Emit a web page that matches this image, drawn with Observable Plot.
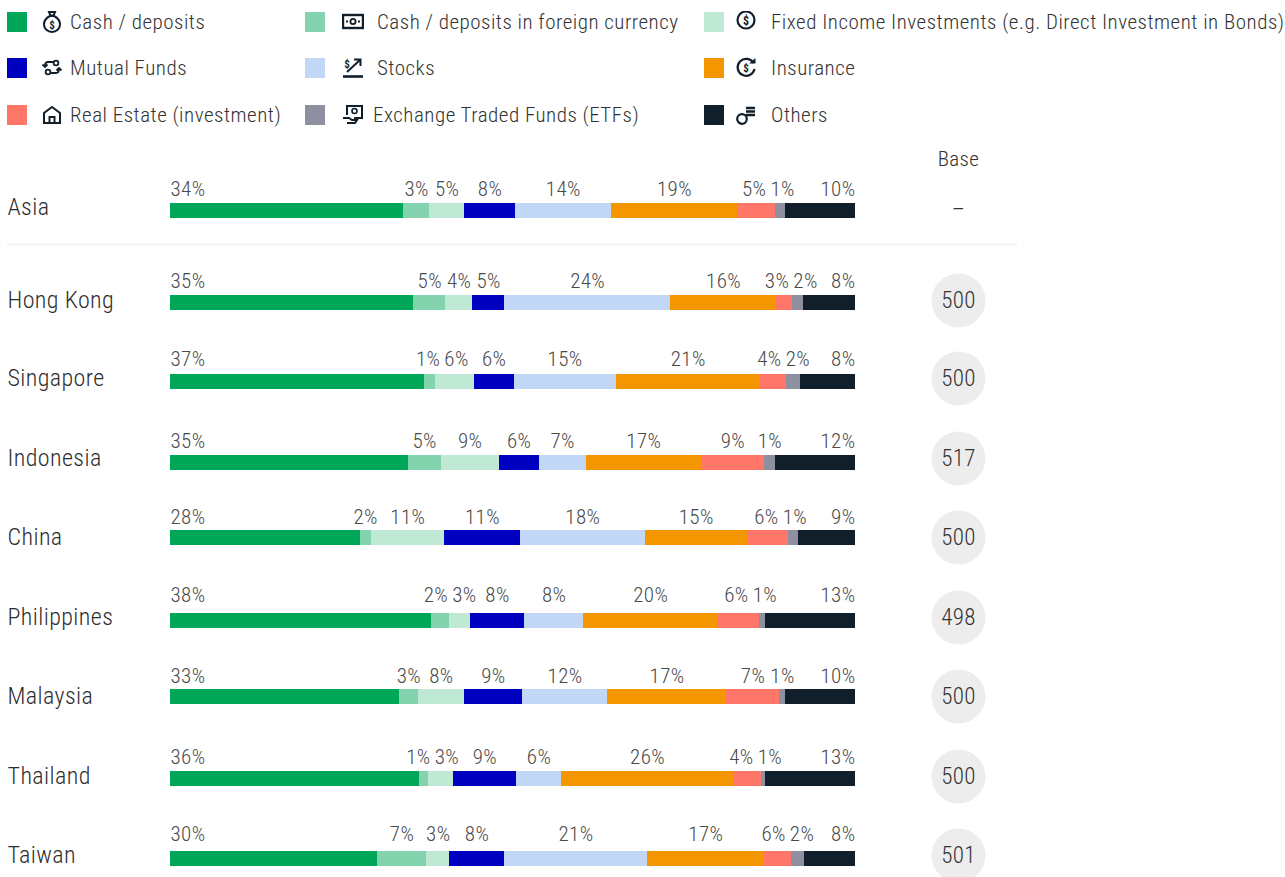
<!DOCTYPE html>
<html><head><meta charset="utf-8">
<script src="https://cdn.jsdelivr.net/npm/d3@7"></script>
<script src="https://cdn.jsdelivr.net/npm/@observablehq/plot@0.6"></script>
<style>
html,body{margin:0;padding:0;background:#fff;overflow:hidden}
body{width:1285px;height:877px;font-family:"Roboto Condensed",Roboto,sans-serif;font-weight:300}
#legend{position:relative;height:135px;width:1285px}
#legend .sw{position:absolute;width:20px;height:20px}
#legend .ic{position:absolute;width:22px;height:22px}
#legend .tx{position:absolute;font-size:21px;line-height:24px;color:#333;letter-spacing:.5px;white-space:nowrap}
#chart svg{display:block}
</style></head><body>
<div id="legend"></div><div id="chart"></div>
<script>
const regions = ["Asia","Hong Kong","Singapore","Indonesia","China","Philippines","Malaysia","Thailand","Taiwan"];
const baseLabels = ["–","500","500","517","500","498","500","500","501"];
const seriesNames = ["Cash / deposits","Cash / deposits in foreign currency","Fixed Income Investments (e.g. Direct Investment in Bonds)","Mutual Funds","Stocks","Insurance","Real Estate (investment)","Exchange Traded Funds (ETFs)","Others"];
const seriesColors = ["#00a758","#83d3ae","#bfe9d5","#0000c1","#c2d7f5","#f49600","#ff7769","#8e90a2","#111f2b"];

const cash       = [34.0,35.5,37.1,34.7,27.7,38.1,33.4,36.4,30.2];
const foreign    = [3.8,4.7,1.5,4.8,1.6,2.6,2.8,1.3,7.2];
const fixedIncome= [5.1,3.9,5.7,8.5,10.7,3.1,6.7,3.6,3.4];
const mutual     = [7.4,4.7,5.8,5.8,11.1,7.9,8.5,9.2,7.9];
const stocks     = [14.0,24.2,14.9,6.9,18.2,8.6,12.4,6.6,21.0];
const insurance  = [18.4,15.5,21.0,16.8,14.9,19.6,17.4,25.1,16.9];
const realEstate = [5.5,2.3,3.9,9.2,6.0,6.1,7.7,4.1,4.1];
const etfs       = [1.5,1.6,2.0,1.6,1.5,0.9,0.9,0.6,1.8];
const others     = [10.2,7.6,8.0,11.7,8.3,13.1,10.2,13.1,7.5];
const seriesValues = [cash,foreign,fixedIncome,mutual,stocks,insurance,realEstate,etfs,others];

const cashLabels       = [34,35,37,35,28,38,33,36,30];
const foreignLabels    = [3,5,1,5,2,2,3,1,7];
const fixedLabels      = [5,4,6,9,11,3,8,3,3];
const mutualLabels     = [8,5,6,6,11,8,9,9,8];
const stocksLabels     = [14,24,15,7,18,8,12,6,21];
const insuranceLabels  = [19,16,21,17,15,20,17,26,17];
const realEstateLabels = [5,3,4,9,6,6,7,4,6];
const etfLabels        = [1,2,2,1,1,1,1,1,2];
const othersLabels     = [10,8,8,12,9,13,10,13,8];
const seriesLabels = [cashLabels,foreignLabels,fixedLabels,mutualLabels,stocksLabels,insuranceLabels,realEstateLabels,etfLabels,othersLabels];

/* layout */
const FONT = '"Roboto Condensed",Roboto,sans-serif';
const HEAD = 135, BAR_L = 170, BAR_R = 855, W = 1285, H = 742;
const rowY = [207,300,378,458,537,617,696,776,855];
const barNudge = [3,2,3,4,0,3,0,2,3];
const labelNudge = [-18,-19,-19,-17,-20,-22,-20,-19,-21];
const toShare = d3.scaleLinear([BAR_L,BAR_R],[0,1]);

/* legend */
const ink = "#111f2b";
const icons = [
 `<path d="M8 1h6l-1.500 3.500h-3zM9 5h4c4 2 6 5 6 8.500a8 7.500 0 0 1-16 0c0-3.500 2-6.500 6-8.500z" fill="none" stroke="${ink}" stroke-width="2"/><text x="11" y="18" font-size="11" font-weight="bold" text-anchor="middle" fill="${ink}">$</text>`,
 `<rect x="1" y="4" width="20" height="13" fill="none" stroke="${ink}" stroke-width="2.400"/><circle cx="11" cy="10.500" r="2.600" fill="none" stroke="${ink}" stroke-width="1.800"/><path d="M5 9.500v2M17 9.500v2" stroke="${ink}" stroke-width="2"/>`,
 `<circle cx="11" cy="9" r="8.500" fill="none" stroke="${ink}" stroke-width="2.200"/><text x="11" y="13.500" font-size="12" font-weight="bold" text-anchor="middle" fill="${ink}">$</text>`,
 `<circle cx="15" cy="6" r="2.400" fill="none" stroke="${ink}" stroke-width="1.800"/><circle cx="7" cy="15" r="2.400" fill="none" stroke="${ink}" stroke-width="1.800"/><path d="M12 5H7Q4 5 4 9M1.500 7.500L4 10l2.500-2.500M10 16h5q3 0 3-4M15.500 13.500L18 11l2.500 2.500" fill="none" stroke="${ink}" stroke-width="1.800"/>`,
 `<text x="5" y="11" font-size="11" font-weight="bold" text-anchor="middle" fill="${ink}">$</text><path d="M5 15L18 3M12 2.500h6.500V9" fill="none" stroke="${ink}" stroke-width="2"/><path d="M1 19.500h20" stroke="${ink}" stroke-width="2.600"/>`,
 `<path d="M18.500 6A8.500 8.500 0 1 0 19.500 12" fill="none" stroke="${ink}" stroke-width="2.200"/><path d="M14 6.500h6.500V1z" fill="${ink}"/><text x="11" y="15" font-size="11" font-weight="bold" text-anchor="middle" fill="${ink}">$</text>`,
 `<path d="M3 19V9l8-6 8 6v10zM8.500 19v-6h5v6" fill="none" stroke="${ink}" stroke-width="2"/>`,
 `<path d="M5 11V2h15v12h-8" fill="none" stroke="${ink}" stroke-width="2"/><circle cx="12.500" cy="7" r="2.500" fill="none" stroke="${ink}" stroke-width="1.600"/><path d="M1 14h6l3 2h5l-2 3H5" fill="none" stroke="${ink}" stroke-width="2"/>`,
 `<circle cx="7" cy="15" r="4.800" fill="none" stroke="${ink}" stroke-width="2.200"/><path d="M11 4h9M11 7.500h9M11 11h9" stroke="${ink}" stroke-width="2.400"/>`
];
const swatchX = [7,305,704], iconX = [41,342,735], textX = [[70,377,771],[70,377,771],[70,373,771]];
const swatchY = [12,58,105], textY = [22,68,115];
const legend = document.getElementById("legend");
seriesNames.forEach((name,i)=>{
  const col=i%3,row=Math.floor(i/3);
  legend.insertAdjacentHTML("beforeend",
   `<div class="sw" style="left:${swatchX[col]}px;top:${swatchY[row]}px;background:${seriesColors[i]}"></div>`+
   `<svg class="ic" viewBox="0 0 22 22" style="left:${iconX[col]}px;top:${textY[row]-11}px">${icons[i]}</svg>`+
   `<div class="tx" style="left:${textX[row][col]}px;top:${textY[row]-12}px">${name}</div>`);
});

/* table built from the arrays */
const LABEL_SIZE = 21, SPACING = 0.4, GAP = 4;
const ctx = document.createElement("canvas").getContext("2d");
ctx.font = `300 ${LABEL_SIZE}px ${FONT}`;
const span = BAR_R-BAR_L;
const rows = regions.map((region,r)=>{
  const vals = seriesValues.map(s=>s[r]);
  const total = d3.sum(vals);
  let c = 0;
  const segs = vals.map((v,i)=>{
    const start=c/total; c+=v; const end=c/total;
    const text=seriesLabels[i][r]+"%";
    const w=ctx.measureText(text).width+SPACING*text.length;
    return {r,series:seriesNames[i],start,end,text,w,cx:(start+end)/2*span};
  });
  const n=segs.length;
  segs[0].cx=segs[0].w/2; segs[n-1].cx=span-segs[n-1].w/2;
  for(let it=0;it<80;it++) for(let i=0;i<n-1;i++){
    const a=segs[i],b=segs[i+1];
    const over=(a.w+b.w)/2+GAP-(b.cx-a.cx);
    if(over>0){
      if(i===0) b.cx+=over;
      else if(i+1===n-1) a.cx-=over;
      else {a.cx-=over/2;b.cx+=over/2;}
    }
  }
  segs.forEach(s=>s.lx=s.cx/span);
  return {region,r,segs};
});

const marks = [
  Plot.ruleY([0],{y:d=>d,dy:37,x1:toShare(7),x2:toShare(1017),stroke:"#f1f1f1",strokeWidth:2}),
  Plot.text(["Base"],{x:toShare(958),y:()=>0,dy:-48,fontSize:21,fill:"#333",lineAnchor:"middle"})
];
rows.forEach(row=>{
  marks.push(
    Plot.ruleY(row.segs,{y:"r",x1:"start",x2:"end",stroke:"series",strokeWidth:15,dy:barNudge[row.r],shapeRendering:"crispEdges"}),
    Plot.text(row.segs,{x:"lx",y:"r",text:"text",dy:labelNudge[row.r],fontSize:LABEL_SIZE,fill:"#4a4a4a",lineAnchor:"middle"}),
    Plot.text([row],{x:toShare(7),y:"r",text:"region",textAnchor:"start",fontSize:24,fill:"#2e2e2e",lineAnchor:"middle"})
  );
  if(row.r>0) marks.push(Plot.dot([row],{x:toShare(958),y:"r",r:27,fill:"#ededed",stroke:null}));
  marks.push(Plot.text([row],{x:toShare(958),y:"r",text:d=>baseLabels[d.r],dy:row.r===0?2:0,fontSize:23,fill:"#333",lineAnchor:"middle"}));
});

document.getElementById("chart").append(Plot.plot({
  width:W,height:H,marginLeft:BAR_L,marginRight:W-BAR_R,marginTop:0,marginBottom:0,
  style:{fontFamily:FONT,fontWeight:300,background:"#fff",letterSpacing:SPACING+"px",overflow:"hidden"},
  x:{domain:[0,1],axis:null},
  y:{type:"linear",domain:rowY.map((_,i)=>i),range:rowY.map(v=>v-HEAD),axis:null},
  color:{domain:seriesNames,range:seriesColors},
  marks
}));
</script>
</body></html>
